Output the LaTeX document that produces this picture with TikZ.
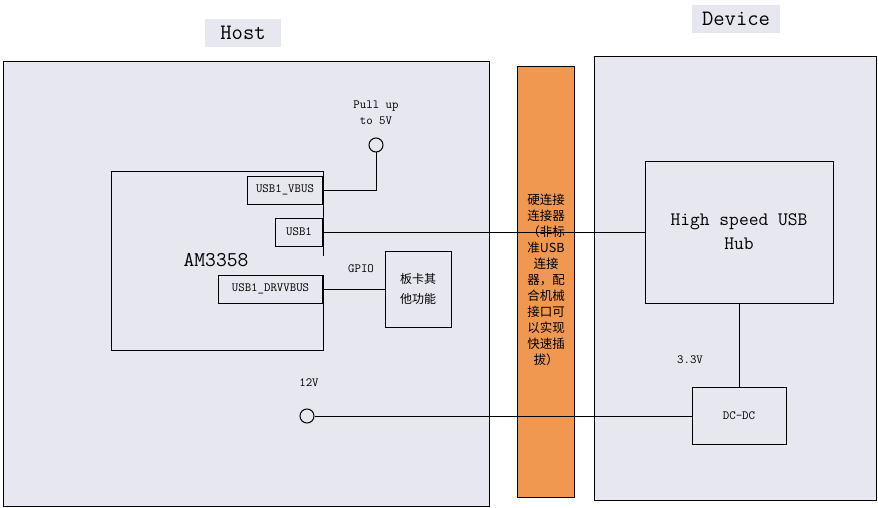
\documentclass[tikz,border=0pt]{standalone}
\usepackage{fontspec}
\renewcommand{\familydefault}{\ttdefault}
\newfontfamily\cjk{Noto Sans CJK SC}
\definecolor{boardbg}{RGB}{231,231,239}
\definecolor{connorange}{RGB}{241,152,80}
\tikzset{
	pinbox/.style={draw, fill=boardbg, minimum height=28pt, inner sep=0pt, anchor=east, font=\fontsize{12.5}{13}\selectfont},
	blockbox/.style={draw, fill=boardbg, inner sep=0pt},
	pad/.style={circle, draw, minimum size=14pt, inner sep=0pt},
	small/.style={font=\fontsize{12.5}{16}\selectfont, align=center},
	title/.style={fill=boardbg, minimum height=28pt, inner sep=0pt, font=\fontsize{22}{22}\selectfont}
}
\begin{document}
\begin{tikzpicture}[x=1pt, y=-1pt, line width=1pt]
			\useasboundingbox (0,0) rectangle (878,508);
			% the two boards
			\draw [fill=boardbg] (3,62) rectangle (489,506);
			\draw [fill=boardbg] (594,57) rectangle (876,500);
			\node [title, minimum width=76pt] (hostlbl) at (243,33) {Host};
			\node [title, minimum width=88pt] (devlbl) at (736,19) {Device};

			% hard connector between them
			\node [draw, fill=connorange, minimum width=57pt, minimum height=430pt, inner sep=0pt] (conn) at (545.5,282) {};
			\node [font=\cjk\fontsize{12.5}{16}\selectfont, align=center] (conntxt) at (546,280)
				{硬连接\\连接器\\（非标\\准USB\\连接\\器，配\\合机械\\接口可\\以实现\\快速插\\拔）};

			% AM3358, right side open at GPIO
			\draw (323,256) -- (323,171) -- (111,171) -- (111,350) -- (323,350) -- (323,275);
			\node [font=\fontsize{21}{22}\selectfont] (chip) at (216,260) {AM3358};
			\node [pinbox, minimum width=75pt] (vbus) at (323,190) {USB1\_VBUS};
			\node [pinbox, minimum width=47pt] (usb) at (323,232) {USB1};
			\node [pinbox, minimum width=104pt] (drvvbus) at (323,289) {USB1\_DRVVBUS};

			\node [blockbox, minimum width=66pt, minimum height=76pt, align=center, font=\cjk\fontsize{12}{20}\selectfont] (misc) at (418,289) {板卡其\\他功能};
			\node [small] (gpio) at (361,269) {GPIO};

			\node [pad] (pullup) at (376,145) {};
			\node [small] (pulltxt) at (376,113) {Pull up\\to 5V};
			\node [pad] (v12) at (307,416) {};
			\node [small] (v12txt) at (309,383) {12V};

			% device side
			\node [blockbox, minimum width=188pt, minimum height=142pt, align=center, font=\fontsize{19}{24}\selectfont] (hub) at (739,232) {High speed USB\\Hub};
			\node [blockbox, minimum width=94pt, minimum height=57pt, font=\fontsize{12.5}{13}\selectfont] (dcdc) at (739,416) {DC-DC};
			\node [small] (v33txt) at (690,360) {3.3V};

			% wiring
			\draw (pullup.south) |- (vbus.east);
			\draw (usb.east) -- (hub.west);
			\draw (drvvbus.east) -- (misc.west);
			\draw (v12.east) -- (dcdc.west);
			\draw (hub.south) -- (dcdc.north);
		\end{tikzpicture}
\end{document}
